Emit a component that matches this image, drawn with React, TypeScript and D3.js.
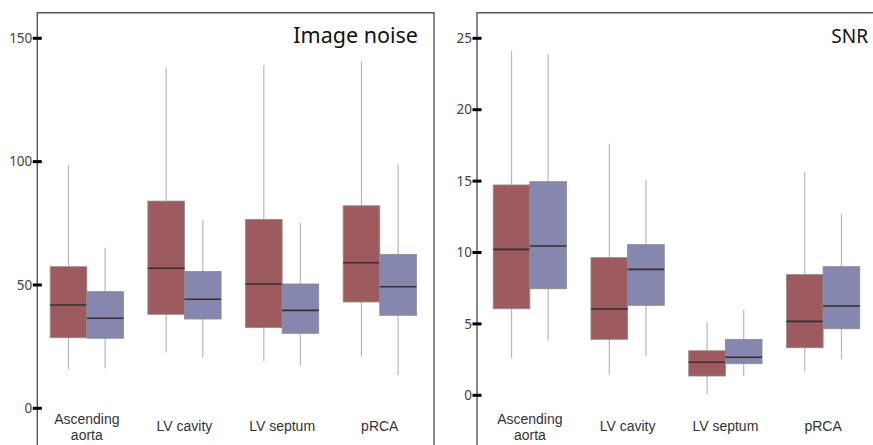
import React from "react";
import * as d3 from "d3";

// categories along x
const CATEGORIES = ["Ascending aorta", "LV cavity", "LV septum", "pRCA"];

// [min, q1, median, q3, max] per category
const NOISE_RED = [
  [15.8, 28.6, 41.9, 57.4, 98.6],
  [22.7, 38.1, 56.8, 84.0, 138.2],
  [19.1, 32.7, 50.4, 76.6, 139.0],
  [20.9, 43.1, 59.0, 82.1, 140.7],
];
const NOISE_BLUE = [
  [16.1, 28.4, 36.5, 47.3, 65.1],
  [20.5, 36.2, 44.2, 55.5, 76.3],
  [17.1, 30.4, 39.7, 50.4, 75.2],
  [13.5, 37.7, 49.3, 62.4, 98.9],
];
const SNR_RED = [
  [2.59, 6.06, 10.22, 14.73, 24.11],
  [1.44, 3.92, 6.04, 9.64, 17.62],
  [0.09, 1.35, 2.31, 3.12, 5.13],
  [1.68, 3.33, 5.18, 8.45, 15.64],
];
const SNR_BLUE = [
  [3.82, 7.46, 10.46, 14.96, 23.9],
  [2.73, 6.3, 8.82, 10.55, 15.06],
  [1.35, 2.21, 2.66, 3.92, 5.99],
  [2.54, 4.66, 6.25, 9.01, 12.72],
];

const NOISE_TICKS = [0, 50, 100, 150];
const SNR_TICKS = [0, 5, 10, 15, 20, 25];

const RED = "#9e5b5f";
const BLUE = "#8587ae";
const FONT = "'Noto Sans', 'Open Sans', sans-serif";
const LABEL_FONT = "'Liberation Sans', Arial, sans-serif";

interface PanelProps {
  title: string;
  titleSize: number;
  titleX: number;
  axisX: number;
  bandRange: [number, number];
  yDomain: [number, number];
  yRange: [number, number];
  ticks: number[];
  red: number[][];
  blue: number[][];
}

function Panel(p: PanelProps) {
  const x = d3.scaleBand().domain(CATEGORIES).range(p.bandRange);
  const y = d3.scaleLinear().domain(p.yDomain).range(p.yRange);
  const bw = x.bandwidth() * 0.375;
  const top = 12.7;

  const box = (s: number[], x0: number, fill: string, key: string) => {
    const cx = x0 + bw / 2;
    return (
      <g key={key}>
        <line x1={cx} x2={cx} y1={y(s[4])} y2={y(s[0])} stroke="#b8b8b8" strokeWidth={1.2} />
        <rect
          x={x0}
          y={y(s[3])}
          width={bw}
          height={y(s[1]) - y(s[3])}
          fill={fill}
          stroke="#8c8c8c"
          strokeWidth={0.8}
        />
        <line x1={x0} x2={x0 + bw} y1={y(s[2])} y2={y(s[2])} stroke="#3a2c30" strokeWidth={1.6} />
      </g>
    );
  };

  return (
    <g>
      {/* frame */}
      <path
        d={`M${p.axisX},460V${top}H${p.axisX + 396.7}V460`}
        fill="none"
        stroke="#555"
        strokeWidth={1.4}
      />
      {p.ticks.map((t) => (
        <g key={t}>
          <line x1={p.axisX - 4.5} x2={p.axisX + 4.5} y1={y(t)} y2={y(t)} stroke="#000" strokeWidth={3} />
          <text
            x={p.axisX - 5}
            y={y(t)}
            dy="0.35em"
            textAnchor="end"
            fontSize={13.5}
            fill="#444"
            fontFamily={FONT}
          >
            {t}
          </text>
        </g>
      ))}
      {CATEGORIES.map((c, i) => {
        const center = (x(c) || 0) + x.bandwidth() / 2;
        const lines = c === "Ascending aorta" ? ["Ascending", "aorta"] : [c];
        return (
          <g key={c}>
            {box(p.red[i], center - bw, RED, "r")}
            {box(p.blue[i], center, BLUE, "b")}
            {lines.map((l, j) => (
              <text
                key={l}
                x={center}
                y={lines.length === 2 ? 423.5 + j * 16 : 431}
                textAnchor="middle"
                fontSize={14}
                fill="#333"
                fontFamily={LABEL_FONT}
              >
                {l}
              </text>
            ))}
          </g>
        );
      })}
      <text x={p.titleX} y={42.5} textAnchor="end" fontSize={p.titleSize} fill="#111" fontFamily={FONT}>
        {p.title}
      </text>
    </g>
  );
}

export default function App() {
  return (
    <svg
      width={873}
      height={445}
      style={{ position: "absolute", left: 0, top: 0, background: "#fff" }}
    >
      <Panel
        title="Image noise"
        titleSize={21.5}
        titleX={418}
        axisX={37.3}
        bandRange={[38, 428.6]}
        yDomain={[0, 150]}
        yRange={[408.3, 38.3]}
        ticks={NOISE_TICKS}
        red={NOISE_RED}
        blue={NOISE_BLUE}
      />
      <Panel
        title="SNR"
        titleSize={19}
        titleX={868}
        axisX={477}
        bandRange={[481, 872]}
        yDomain={[0, 25]}
        yRange={[395.3, 38.3]}
        ticks={SNR_TICKS}
        red={SNR_RED}
        blue={SNR_BLUE}
      />
    </svg>
  );
}
